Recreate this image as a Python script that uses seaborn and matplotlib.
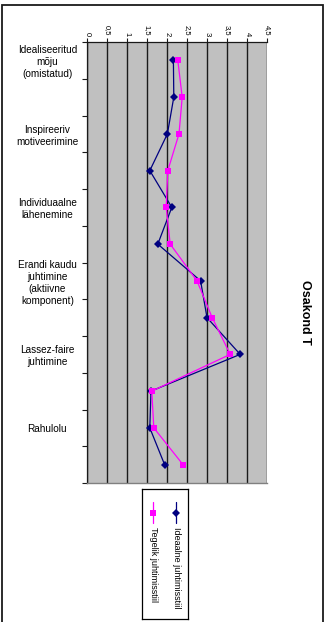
import numpy as np
import pandas as pd
import matplotlib
matplotlib.use('Agg')
import matplotlib.pyplot as plt
from matplotlib.patches import Rectangle
import seaborn as sns

sns.set_theme(style="white")
plt.rcParams['font.family'] = ['Liberation Sans', 'DejaVu Sans']
plt.rcParams['text.color'] = 'black'
plt.rcParams['xtick.color'] = 'black'
plt.rcParams['ytick.color'] = 'black'
plt.rcParams['xtick.labelcolor'] = 'black'
plt.rcParams['ytick.labelcolor'] = 'black'

# ── Data ──
categories = [
    "Idealiseeritud\nmõju\n(omistatud)", "",
    "Inspireeriv\nmotiveerimine", "",
    "Individuaalne\nlähenemine", "",
    "Erandi kaudu\njuhtimine\n(aktiivne\nkomponent)", "",
    "Lassez-faire\njuhtimine", "",
    "Rahulolu", "",
]
ideaalne = [2.16, 2.17, 2.01, 1.57, 2.12, 1.77, 2.84, 3.00, 3.83, 1.60, 1.57, 1.94]
tegelik  = [2.27, 2.38, 2.30, 2.02, 1.98, 2.08, 2.75, 3.13, 3.58, 1.62, 1.67, 2.40]
series_names = ["Ideaalne juhtimisstiil", "Tegelik juhtimisstiil"]
x_ticks = [0, 0.5, 1, 1.5, 2, 2.5, 3, 3.5, 4, 4.5]

NAVY, MAGENTA = '#000080', '#FF00FF'

pos = np.arange(1, len(categories) + 1)
df = pd.DataFrame({
    'pos': np.concatenate([pos, pos]),
    'value': ideaalne + tegelik,
    'series': [series_names[0]] * len(pos) + [series_names[1]] * len(pos),
})

fig = plt.figure(figsize=(3.27, 6.22), dpi=100)
fig.patch.set_facecolor('white')
W, H = 327, 622
ax = fig.add_axes([87 / W, 1 - 483 / H, 180 / W, 441 / H])
ax.set_facecolor('#C0C0C0')

sns.lineplot(data=df, x='value', y='pos', hue='series', style='series',
             palette={series_names[0]: NAVY, series_names[1]: MAGENTA},
             markers={series_names[0]: 'D', series_names[1]: 's'},
             dashes=False, sort=False, estimator=None, legend=False,
             lw=0.9, markersize=4, markeredgewidth=0, ax=ax, zorder=3)

ax.set_xlim(0, 4.5)
ax.set_ylim(len(categories) + 0.5, 0.5)
ax.set_xlabel(''); ax.set_ylabel('')

# vertical gridlines
for v in x_ticks:
    ax.axvline(v, color='#1a1a1a', lw=1.0, zorder=1)

# top value axis
ax.xaxis.tick_top()
ax.set_xticks(x_ticks)
ax.set_xticklabels([f'{v:g}'.replace('.', ',') for v in x_ticks],
                   rotation=-90, fontsize=5.5)
ax.tick_params(axis='x', top=True, length=3, width=0.8, color='#1a1a1a', pad=1.5)

# category axis: ticks at boundaries, labels in between
ax.set_yticks(np.arange(0.5, len(categories) + 1, 1))
ax.set_yticklabels([])
ax.set_yticks(pos, minor=True)
ax.set_yticklabels(categories, minor=True, fontsize=7.2, ha='center',
                   multialignment='center', linespacing=1.25)
ax.tick_params(axis='y', which='major', left=True, length=3.5, width=0.8,
               color='#1a1a1a')
ax.tick_params(axis='y', which='minor', left=True, length=0, pad=28.5)

for side in ['left', 'top']:
    ax.spines[side].set_color('#1a1a1a'); ax.spines[side].set_linewidth(0.9)
ax.spines['right'].set_visible(False)
ax.spines['bottom'].set_color('#808080'); ax.spines['bottom'].set_linewidth(1.0)

# title
fig.text(305 / W, 1 - 312 / H, 'Osakond T', rotation=-90, fontsize=9,
         fontweight='bold', ha='center', va='center')

# legend box (rotated)
lax = fig.add_axes([142 / W, 1 - 619 / H, 46 / W, 130 / H])
lax.set_xlim(0, 1); lax.set_ylim(0, 1)
lax.set_xticks([]); lax.set_yticks([])
lax.set_facecolor('white')
for s in lax.spines.values():
    s.set_color('black'); s.set_linewidth(0.9)
for xc, name, col, mk in [(0.74, series_names[0], NAVY, 'D'),
                          (0.24, series_names[1], MAGENTA, 's')]:
    lax.plot([xc, xc], [0.738, 0.902], color=col, lw=0.9)
    lax.plot([xc], [0.818], marker=mk, color=col, markersize=4, markeredgewidth=0)
    lax.text(xc, 0.705, name, rotation=-90, fontsize=6.5, ha='center', va='top')

# outer chart frame
fig.patches.append(Rectangle((1.5 / W, -0.02), 321 / W, 1.02 - 5 / H,
                             transform=fig.transFigure, fill=False,
                             edgecolor='#1a1a1a', lw=1.3, clip_on=False))

fig.savefig('out.png', dpi=100)
